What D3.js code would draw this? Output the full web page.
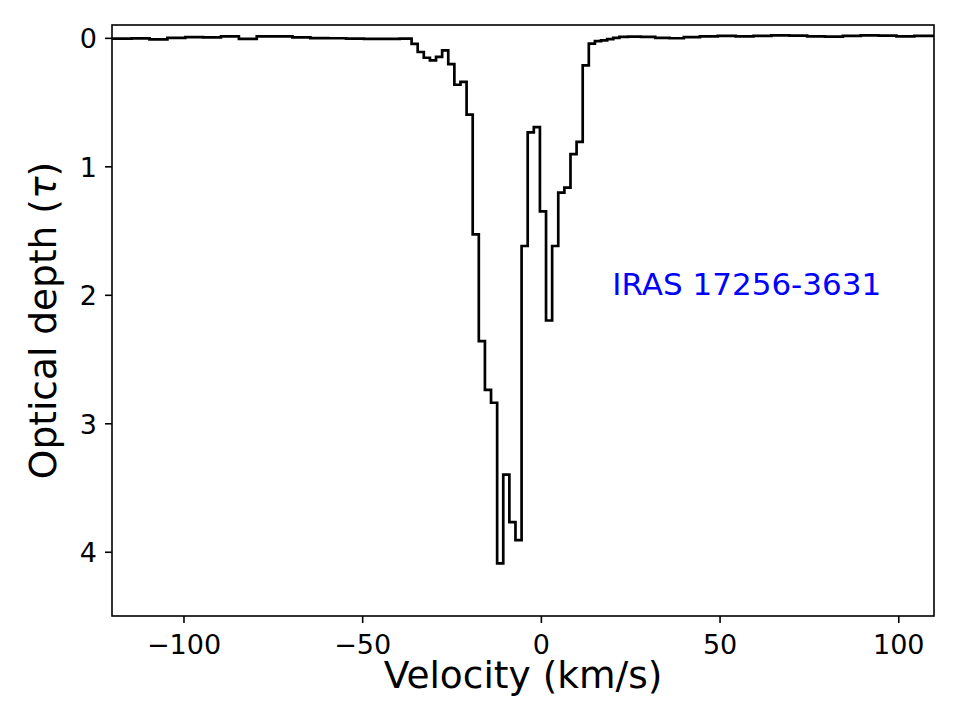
<!DOCTYPE html>
<html>
<head>
<meta charset="utf-8">
<script src="https://cdn.jsdelivr.net/npm/d3@7"></script>
<style>
body { margin: 0; background: #fff; }
text { font-family: "DejaVu Sans", sans-serif; }
</style>
</head>
<body>
<svg id="chart" width="961" height="719"></svg>
<script>
// channel centres (km/s) and optical depth
const velocity = [
    -124, -117, -112, -107, -102, -97, -92, -87, -82, -77, -72, -67, -62, -57, -52, -47, -42,
    -37.02, -35.32, -33.61, -31.90, -30.19, -28.48, -26.77, -25.06, -23.35, -21.64,
    -19.93, -18.22, -16.51, -14.80, -13.09, -11.38, -9.67, -7.96, -6.25, -4.54,
    -2.83, -1.12, 0.59, 2.30, 4.01, 5.72, 7.43, 9.14, 10.85, 12.56,
    14.27, 15.98, 17.69, 19.40, 21.11, 22.82,
    26, 30, 34, 38, 42, 47, 52, 57, 62, 67, 72, 77, 82, 87, 92, 97, 102, 107, 114
];
const tau = [
    0.005, 0.006, 0.004, 0.012, 0.0, -0.005, -0.004, -0.012, 0.008, -0.012, -0.012, -0.004, 0.002, 0.003, 0.006, 0.008, 0.008,
    0.006, 0.047, 0.11, 0.155, 0.176, 0.148, 0.098, 0.205, 0.365, 0.343,
    0.598, 1.53, 2.36, 2.74, 2.84, 4.09, 3.40, 3.77, 3.91, 1.62,
    0.735, 0.695, 1.35, 2.20, 1.62, 1.205, 1.165, 0.905, 0.81, 0.215,
    0.045, 0.026, 0.02, 0.01, 0.0, -0.008,
    -0.01, -0.008, 0.0, 0.003, -0.005, -0.012, -0.015, -0.012, -0.015, -0.02, -0.018, -0.012, -0.01, -0.015, -0.02, -0.018, -0.012, -0.015, -0.01
];
const xTicks = [-100, -50, 0, 50, 100];
const yTicks = [0, 1, 2, 3, 4];
const sourceName = "IRAS 17256-3631";
const sourcePos = [20, 2];

let svg = d3.select("#chart");
let plotLeft = 112, plotRight = 934, plotTop = 25, plotBottom = 616;

let xScale = d3.scaleLinear().domain([-120, 110]).range([plotLeft, plotRight]);
let yScale = d3.scaleLinear().domain([-0.1, 4.5]).range([plotTop, plotBottom]);

svg.append("defs").append("clipPath").attr("id", "plotClip")
    .append("rect")
    .attr("x", plotLeft).attr("y", plotTop)
    .attr("width", plotRight - plotLeft).attr("height", plotBottom - plotTop);

let points = velocity.map((v, i) => [v, tau[i]]);
let line = d3.line()
    .x(d => xScale(d[0]))
    .y(d => yScale(d[1]))
    .curve(d3.curveStep);

svg.append("path")
    .datum(points)
    .attr("clip-path", "url(#plotClip)")
    .attr("d", line)
    .attr("fill", "none")
    .attr("stroke", "black")
    .attr("stroke-width", 2.7)
    .attr("stroke-linejoin", "miter");

// axes
let xAxis = svg.append("g")
    .attr("transform", `translate(0,${plotBottom})`)
    .call(d3.axisBottom(xScale).tickValues(xTicks).tickSize(7).tickPadding(8).tickFormat(d3.format("d")));
let yAxis = svg.append("g")
    .attr("transform", `translate(${plotLeft},0)`)
    .call(d3.axisLeft(yScale).tickValues(yTicks).tickSize(7).tickPadding(8).tickFormat(d3.format("d")));

[xAxis, yAxis].forEach(function (g) {
    g.select(".domain").remove();
    g.selectAll(".tick line").attr("stroke", "black").attr("stroke-width", 1.6);
    g.selectAll(".tick text")
        .attr("fill", "black")
        .style("font-size", "27px")
        .style("font-family", "DejaVu Sans, sans-serif");
});
xAxis.selectAll(".tick text").attr("dy", null).attr("y", 38);
yAxis.selectAll(".tick text").attr("dy", "0.36em");

svg.append("rect")
    .attr("x", plotLeft).attr("y", plotTop)
    .attr("width", plotRight - plotLeft).attr("height", plotBottom - plotTop)
    .attr("fill", "none")
    .attr("stroke", "black")
    .attr("stroke-width", 1.6);

// labels
svg.append("text")
    .attr("x", (plotLeft + plotRight) / 2)
    .attr("y", 688)
    .attr("text-anchor", "middle")
    .style("font-size", "37.5px")
    .text("Velocity (km/s)");

let yLabel = svg.append("text")
    .attr("transform", `translate(56,${(plotTop + plotBottom) / 2}) rotate(-90)`)
    .attr("text-anchor", "middle")
    .style("font-size", "37.5px");
yLabel.append("tspan").text("Optical depth (");
yLabel.append("tspan").attr("font-style", "italic").text("τ");
yLabel.append("tspan").text(")");

svg.append("text")
    .attr("x", xScale(sourcePos[0]))
    .attr("y", yScale(sourcePos[1]))
    .attr("fill", "#0000ff")
    .style("font-size", "31px")
    .text(sourceName);
</script>
</body>
</html>
